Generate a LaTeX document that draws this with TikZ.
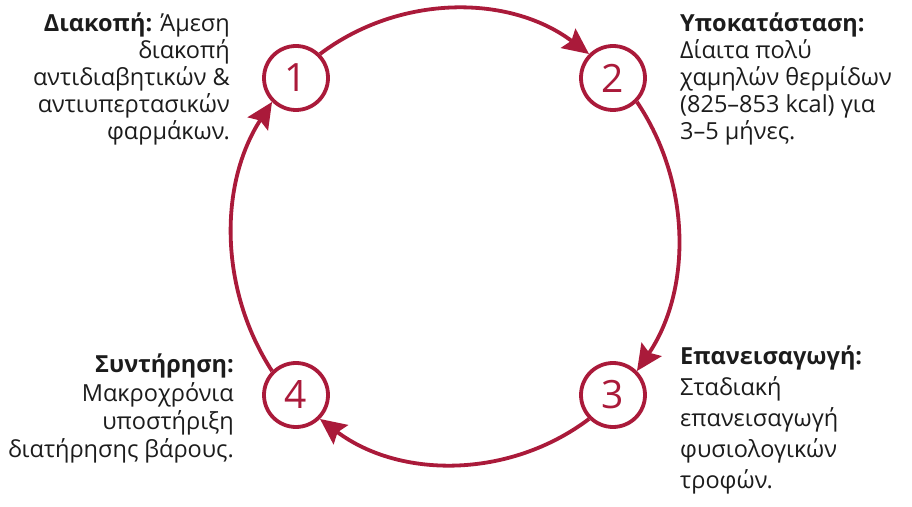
\documentclass[tikz,border=0pt]{standalone}
\usepackage{fontspec}
\setmainfont{Open Sans}
\usetikzlibrary{arrows.meta}
\definecolor{ring}{RGB}{170,26,58}
\definecolor{txt}{RGB}{28,28,28}
\tikzset{
  x=1pt,y=1pt,
  stepnode/.style={circle,draw=ring,line width=3.8pt,minimum size=64pt,inner sep=0pt,
    text=ring,font=\fontsize{39}{39}\selectfont},
  flow/.style={draw=ring,line width=3.8pt,-{Stealth[length=26pt,width=24pt,inset=4pt]}},
  lbl/.style={text=txt,inner sep=0pt,font=\fontsize{23.5}{27}\selectfont},
  lblb/.style={text=txt,inner sep=0pt,font=\fontsize{23.5}{28}\selectfont},
  lblc/.style={text=txt,inner sep=0pt,font=\fontsize{23.5}{31}\selectfont},
}
\begin{document}
\begin{tikzpicture}
\useasboundingbox (0,0) rectangle (912,506);
\node[stepnode] (n1) at (296,428) {1};
\node[stepnode] (n2) at (613,428) {2};
\node[stepnode] (n3) at (613,111) {3};
\node[stepnode] (n4) at (296,111) {4};
\draw[flow] (n1.45) to[out=37,in=143,looseness=0.95] (n2.135);
\draw[flow] (n2.-45) to[out=-56,in=56,looseness=0.93] (n3.45);
\draw[flow] (n3.-135) to[out=-143,in=-37,looseness=0.95] (n4.-45);
\draw[flow] (n4.135) to[out=123,in=-123,looseness=0.93] (n1.-135);
\node[lbl,anchor=base east,align=right] (t1) at (230,366)
  {\textbf{Διακοπή:} Άμεση\\διακοπή\\αντιδιαβητικών \&\\αντιυπερτασικών\\φαρμάκων.};
\node[lbl,anchor=base west,align=left] (t2) at (680,366)
  {\textbf{Υποκατάσταση:}\\Δίαιτα πολύ\\χαμηλών θερμίδων\\(825–853 kcal) για\\3–5 μήνες.};
\node[lblc,anchor=base west,align=left] (t3) at (680,18)
  {\textbf{Επανεισαγωγή:}\\Σταδιακή\\επανεισαγωγή\\φυσιολογικών\\τροφών.};
\node[lblb,anchor=base east,align=right] (t4) at (234,49)
  {\textbf{Συντήρηση:}\\Μακροχρόνια\\υποστήριξη\\διατήρησης βάρους.};
\end{tikzpicture}
\end{document}
